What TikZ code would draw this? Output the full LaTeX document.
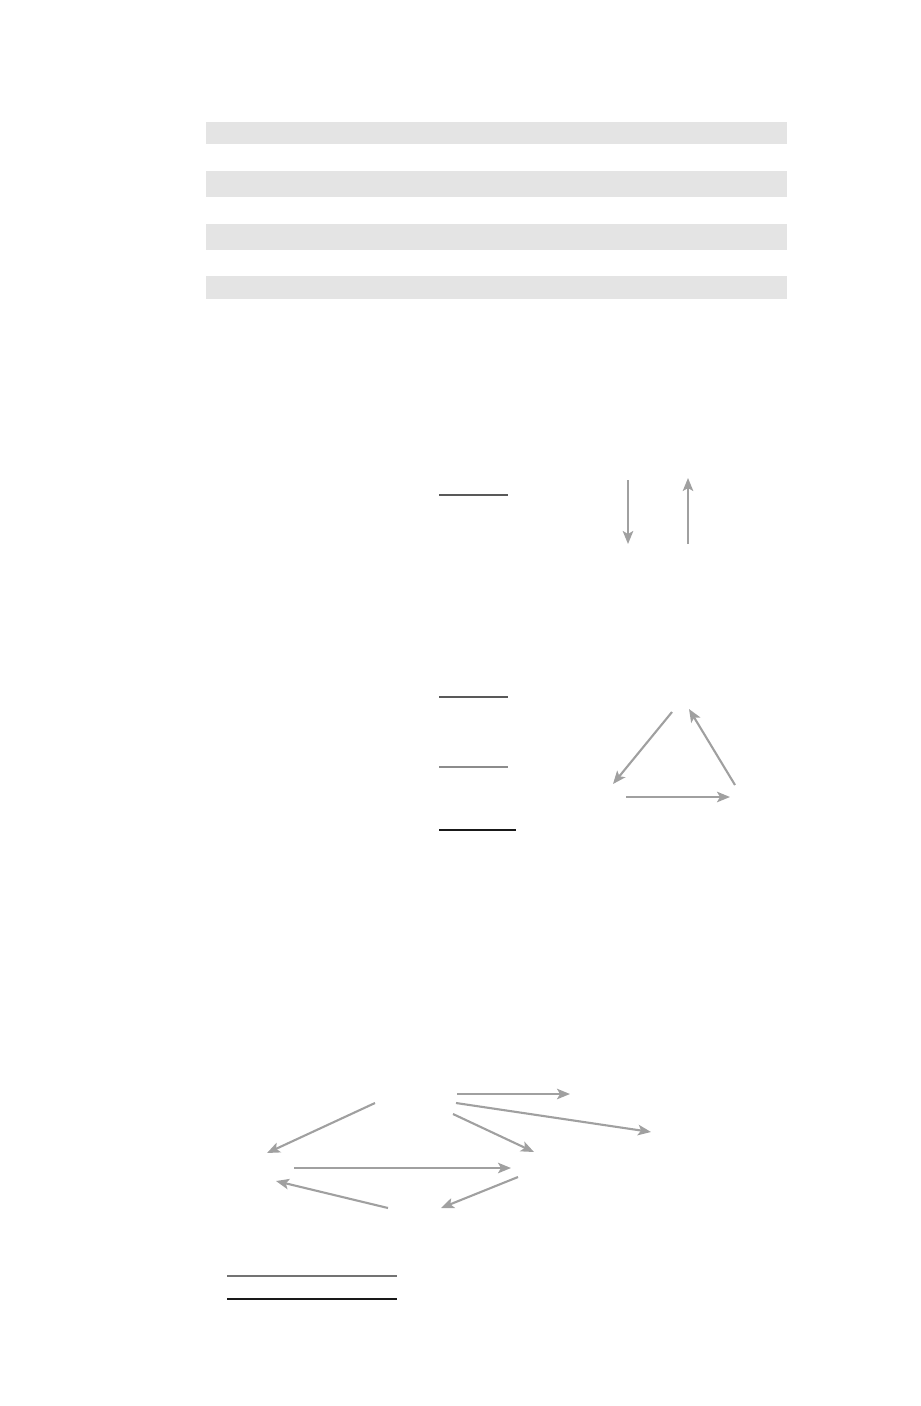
\documentclass[tikz,border=0pt]{standalone}
\usepackage{tikz}
\usetikzlibrary{arrows.meta}
\definecolor{barfill}{HTML}{E4E4E4}
\definecolor{arrowgray}{HTML}{A0A0A0}
\tikzset{
  bar/.style={fill=barfill, draw=none},
  rule/.style={line width=0.75pt},
  garrow/.style={draw=arrowgray, line width=1.2pt, -{Stealth[length=2.6mm, width=2.1mm, inset=0.6mm]}}
}
\begin{document}
\begin{tikzpicture}[x=0.2mm, y=-0.2mm]
                      \useasboundingbox (0,0) rectangle (920,1406);
                      % gray bars
                      \foreach \ya/\yb in {122/144, 171/197, 224/250, 276/299}
                        \fill[bar] (206,\ya) rectangle (787,\yb);
                      % first group
                      \draw[rule, color=black!65] (439,495) -- (508,495);
                      \coordinate (dA) at (628,480); \coordinate (dB) at (628,544);
                      \coordinate (uA) at (688,544); \coordinate (uB) at (688,478);
                      \draw[garrow] (dA) -- (dB);
                      \draw[garrow] (uA) -- (uB);
                      % triangle group
                      \draw[rule, color=black!65] (439,697) -- (508,697);
                      \draw[rule, color=black!45] (439,767) -- (508,767);
                      \draw[rule, color=black!90] (439,830) -- (516,830);
                      \coordinate (top) at (672,712); \coordinate (topr) at (689,709);
                      \coordinate (left) at (613,784); \coordinate (right) at (735,785);
                      \coordinate (baseA) at (626,797); \coordinate (baseB) at (730,797);
                      \draw[garrow] (top) -- (left);
                      \draw[garrow] (right) -- (topr);
                      \draw[garrow] (baseA) -- (baseB);
                      % bottom group
                      \coordinate (p1) at (457,1094); \coordinate (q1) at (570,1094);
                      \coordinate (p2) at (456,1103); \coordinate (q2) at (651,1132);
                      \coordinate (p3) at (453,1114); \coordinate (q3) at (534,1152);
                      \coordinate (p4) at (375,1103); \coordinate (q4) at (267,1153);
                      \coordinate (p5) at (294,1168); \coordinate (q5) at (511,1168);
                      \coordinate (p6) at (388,1208); \coordinate (q6) at (276,1181);
                      \coordinate (p7) at (518,1177); \coordinate (q7) at (441,1208);
                      \foreach \i in {1,...,7}
                        \draw[garrow] (p\i) -- (q\i);
                      \draw[rule, color=black!55] (227,1276) -- (397,1276);
                      \draw[rule, color=black!90] (227,1299) -- (397,1299);
                  \end{tikzpicture}
\end{document}
